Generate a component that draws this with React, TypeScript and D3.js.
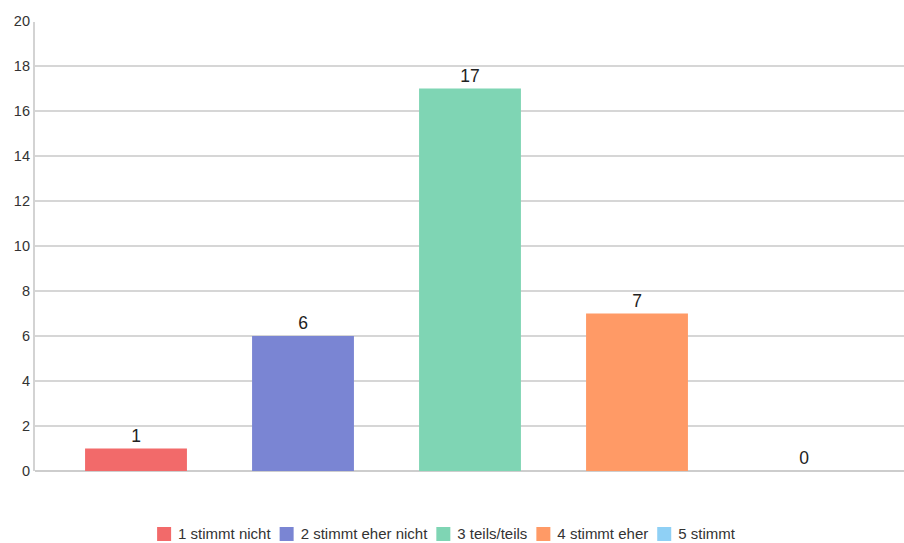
import React from "react";
import * as d3 from "d3";

const categories = ["1 stimmt nicht", "2 stimmt eher nicht", "3 teils/teils", "4 stimmt eher", "5 stimmt"];
const values = [1, 6, 17, 7, 0];
const colors = ["#f26a6a", "#7a85d3", "#7fd5b4", "#ff9a66", "#8fd0f5"];
const yTicks = [0, 2, 4, 6, 8, 10, 12, 14, 16, 18, 20];

const W = 904;
const H = 543;
const FONT = "Liberation Sans, Arial, sans-serif";

function measure(text: string, size: number) {
  const c = document.createElement("canvas").getContext("2d");
  if (!c) return text.length * size * 0.5;
  c.font = `${size}px ${FONT}`;
  return c.measureText(text).width;
}

export default function App() {
  const x = d3.scaleBand<string>().domain(categories).range([52.5, 887.5]).paddingInner(0.39).paddingOuter(0.195);
  const y = d3.scaleLinear().domain([0, 20]).range([471, 21]);

  const sw = 14;
  const gapAfterSwatch = 7;
  const gapItems = 9;
  const legendFont = 15;
  const widths = categories.map((c) => sw + gapAfterSwatch + measure(c, legendFont));
  const total = d3.sum(widths) + gapItems * (categories.length - 1);
  let lx = 446 - total / 2;
  const legendPos = widths.map((w) => {
    const p = lx;
    lx += w + gapItems;
    return p;
  });

  return (
    <svg width={W} height={H} style={{ position: "fixed", left: 0, top: 0, background: "#fff" }} fontFamily={FONT}>
      {yTicks.filter((t) => t > 0 && t < 20).map((t) => (
        <line key={t} x1={35} x2={W} y1={y(t)} y2={y(t)} stroke="#c9c9c9" strokeWidth={1.5} />
      ))}
      <line x1={35} x2={W} y1={y(0)} y2={y(0)} stroke="#bdbdbd" strokeWidth={1.5} />
      <line x1={34} x2={34} y1={22} y2={y(0)} stroke="#c4c4c4" strokeWidth={1.5} />
      {yTicks.map((t) => (
        <text key={t} x={30} y={y(t)} dy="0.35em" textAnchor="end" fontSize={14.5} fill="#333">
          {t}
        </text>
      ))}
      {categories.map((c, i) => (
        <g key={c}>
          {values[i] > 0 && (
            <rect x={x(c)} y={y(values[i])} width={x.bandwidth()} height={y(0) - y(values[i])} fill={colors[i]} />
          )}
          <text x={(x(c) as number) + x.bandwidth() / 2} y={y(values[i]) - 7} textAnchor="middle" fontSize={17.5} fill="#222">
            {values[i]}
          </text>
        </g>
      ))}
      {categories.map((c, i) => (
        <g key={"l" + c} transform={`translate(${legendPos[i]},527)`}>
          <rect x={0} y={0} width={sw} height={sw} fill={colors[i]} />
          <text x={sw + gapAfterSwatch} y={sw / 2} dy="0.35em" fontSize={legendFont} fill="#333">
            {c}
          </text>
        </g>
      ))}
    </svg>
  );
}
